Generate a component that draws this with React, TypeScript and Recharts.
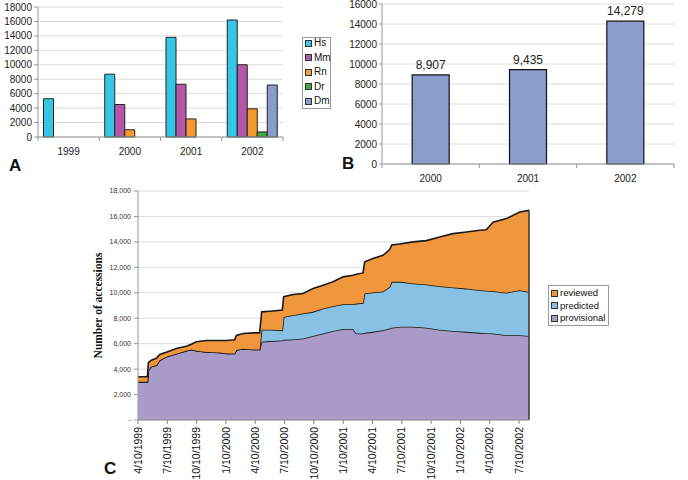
import React from "react";
import {
  BarChart, Bar, XAxis, YAxis, CartesianGrid, LabelList,
  AreaChart, Area, ReferenceLine,
} from "recharts";

// ---------- Panel A ----------
const yearsA = ["1999", "2000", "2001", "2002"];
const hs = [5300, 8700, 13800, 16200];
const mm = [null, 4500, 7300, 10000];
const rn = [null, 1000, 2500, 3900];
const dr = [null, null, null, 700];
const dm = [null, null, null, 7200];
const ticksA = [0, 2000, 4000, 6000, 8000, 10000, 12000, 14000, 16000, 18000];

// ---------- Panel B ----------
const yearsB = ["2000", "2001", "2002"];
const totalsB = [8907, 9435, 14279];
const ticksB = [0, 2000, 4000, 6000, 8000, 10000, 12000, 14000, 16000];

// ---------- Panel C ----------
// months since 4/10/1999
const months = [0, 0.96, 1.06, 1.36, 1.88, 2.22, 2.97, 3.92, 4.95, 5.46, 5.97, 6.99, 8.36, 9.04, 9.89, 10.07, 10.75, 11.77, 12.45, 12.66, 13.48, 14.77, 14.91, 15.87, 16.89, 17.91, 18.94, 19.96, 20.98, 22.01, 22.35, 23.03, 23.2, 24.05, 25.08, 25.76, 25.97, 26.95, 28.15, 29.51, 30.88, 32.24, 33.61, 34.97, 35.65, 36.34, 37.7, 39.07, 40.02];
const provisional = [3000, 3000, 3900, 4200, 4300, 4700, 5000, 5200, 5450, 5550, 5450, 5350, 5300, 5230, 5230, 5500, 5600, 5550, 5550, 6150, 6200, 6250, 6300, 6330, 6400, 6600, 6800, 7000, 7150, 7150, 6800, 6800, 6850, 6930, 7050, 7200, 7250, 7330, 7330, 7250, 7100, 7000, 6930, 6850, 6820, 6800, 6670, 6670, 6600];
const predicted = [0, 0, 0, 0, 0, 0, 0, 0, 0, 0, 0, 0, 0, 0, 0, 0, 0, 0, 0, 950, 900, 800, 1800, 1910, 1970, 1900, 1960, 1950, 1950, 1950, 2350, 2400, 3090, 3090, 3050, 3260, 3610, 3530, 3400, 3400, 3420, 3410, 3400, 3350, 3340, 3320, 3330, 3530, 3470];
const reviewed = [400, 400, 600, 500, 550, 450, 350, 420, 350, 400, 700, 900, 950, 1020, 1070, 1150, 1200, 1300, 1300, 1400, 1450, 1600, 1600, 1620, 1570, 1830, 1840, 1910, 2150, 2280, 2300, 2360, 2490, 2670, 2850, 2940, 2890, 3000, 3270, 3450, 3870, 4240, 4450, 4710, 4790, 5430, 5830, 6150, 6410];
const tickMonthsC = [0, 3, 6, 9, 12, 15, 18, 21, 24, 27, 30, 33, 36, 39];
const tickLabelsC = ["4/10/1999", "7/10/1999", "10/10/1999", "1/10/2000", "4/10/2000", "7/10/2000", "10/10/2000", "1/10/2001", "4/10/2001", "7/10/2001", "10/10/2001", "1/10/2002", "4/10/2002", "7/10/2002"];
const ticksC = [0, 2000, 4000, 6000, 8000, 10000, 12000, 14000, 16000, 18000];

const FONT = "'Liberation Sans', Arial, Helvetica, sans-serif";
const colors = {
  hs: "#35C6E6", mm: "#B457A9", rn: "#F39B31", dr: "#3DAA3D", dm: "#8A9CCC",
  b: "#8A9DCB",
  provisional: "#A99ACA", predicted: "#87C2E4", reviewed: "#F0963D",
};

const dataA = yearsA.map((y, i) => ({ year: y, Hs: hs[i], Mm: mm[i], Rn: rn[i], Dr: dr[i], Dm: dm[i] }));
const dataB = yearsB.map((y, i) => ({ year: y, total: totalsB[i] }));
const dataC = months.map((m, i) => ({ m, provisional: provisional[i], predicted: predicted[i], reviewed: reviewed[i] }));
const lastIdx = months.length - 1;
const lastTotal = provisional[lastIdx] + predicted[lastIdx] + reviewed[lastIdx];

const CatTick = (props: any) => {
  const { x, y, payload, index, visibleTicksCount, width, fs, gap } = props;
  const half = payload && typeof payload.offset === "number" && payload.offset > 0
    ? payload.offset
    : (width && visibleTicksCount ? width / visibleTicksCount / 2 : 0);
  const isLast = index === visibleTicksCount - 1;
  return (
    <g>
      <line x1={x - half} x2={x - half} y1={y} y2={y + 4} stroke="#999" />
      {isLast && <line x1={x + half} x2={x + half} y1={y} y2={y + 4} stroke="#999" />}
      <text x={x} y={y + gap} dy="0.71em" textAnchor="middle" fontSize={fs} fontFamily={FONT} fill="#222">
        {payload.value}
      </text>
    </g>
  );
};

const DateTick = (props: any) => {
  const { x, y, payload } = props;
  const idx = tickMonthsC.indexOf(payload.value);
  const label = idx >= 0 ? tickLabelsC[idx] : "";
  return (
    <text x={x} y={y} dy="0.35em" textAnchor="end" transform={`rotate(-90, ${x}, ${y})`}
      fontSize={10.5} fontFamily={FONT} fill="#111">
      {label}
    </text>
  );
};

const YLabelC = (props: any) => {
  const vb = props.viewBox || { x: 0, y: 0, width: 0, height: 0 };
  const cx = vb.x + 98;
  const cy = vb.y + vb.height / 2;
  return (
    <text x={cx} y={cy} transform={`rotate(-90, ${cx}, ${cy})`} textAnchor="middle" dy="0.35em"
      fontSize={11.5} fontWeight="bold" fontFamily="'Liberation Serif', 'Times New Roman', serif" fill="#111">
      Number of accessions
    </text>
  );
};

const LegendItem = ({ color, label, top, left, fs }: any) => (
  <div style={{ position: "absolute", top, left, height: 12, display: "flex", alignItems: "center", whiteSpace: "nowrap" }}>
    <span style={{ width: 5, height: 5, background: color, border: "1px solid #333", display: "inline-block", marginRight: 2 }} />
    <span style={{ fontSize: fs, fontFamily: FONT, color: "#111", lineHeight: "12px" }}>{label}</span>
  </div>
);

const PanelLabel = ({ text, left, top }: any) => (
  <div style={{ position: "absolute", left, top, fontFamily: FONT, fontWeight: "bold", fontSize: 17, lineHeight: "17px", color: "#111" }}>{text}</div>
);

export default function App() {
  const legendA = [
    { k: "Hs", c: colors.hs }, { k: "Mm", c: colors.mm }, { k: "Rn", c: colors.rn },
    { k: "Dr", c: colors.dr }, { k: "Dm", c: colors.dm },
  ];
  const legendC = [
    { k: "reviewed", c: colors.reviewed }, { k: "predicted", c: colors.predicted }, { k: "provisional", c: colors.provisional },
  ];
  return (
    <div style={{ position: "absolute", left: 0, top: 0, width: 688, height: 480, background: "#fff", overflow: "hidden" }}>
      {/* Panel A */}
      <div style={{ position: "absolute", left: 0, top: 0 }}>
        <BarChart width={340} height={180} data={dataA} margin={{ top: 7, right: 57, bottom: 13, left: 0 }}
          barCategoryGap="9%" barGap={0}>
          <CartesianGrid vertical={false} stroke="#dcdcdc" />
          <XAxis dataKey="year" height={30} stroke="#999" tickLine={false} tickSize={0} tickMargin={0}
            tick={<CatTick fs={10} gap={11} />} interval={0} />
          <YAxis width={38} domain={[0, 18000]} ticks={ticksA} stroke="#999" tickSize={4} tickMargin={2}
            tick={{ fontSize: 10, fontFamily: FONT, fill: "#222" }} interval={0} />
          <Bar dataKey="Hs" fill={colors.hs} stroke="#222" strokeWidth={1} isAnimationActive={false} />
          <Bar dataKey="Mm" fill={colors.mm} stroke="#222" strokeWidth={1} isAnimationActive={false} />
          <Bar dataKey="Rn" fill={colors.rn} stroke="#222" strokeWidth={1} isAnimationActive={false} />
          <Bar dataKey="Dr" fill={colors.dr} stroke="#222" strokeWidth={1} isAnimationActive={false} />
          <Bar dataKey="Dm" fill={colors.dm} stroke="#222" strokeWidth={1} isAnimationActive={false} />
        </BarChart>
      </div>
      <div style={{ position: "absolute", left: 302, top: 37, width: 27, height: 70, border: "1px solid #999" }} />
      {legendA.map((d, i) => (
        <LegendItem key={d.k} color={d.c} label={d.k} top={37 + i * 14.6} left={305} fs={10} />
      ))}
      <PanelLabel text="A" left={9} top={157} />

      {/* Panel B */}
      <div style={{ position: "absolute", left: 340, top: 0 }}>
        <BarChart width={348} height={200} data={dataB} margin={{ top: 4, right: 14, bottom: 6, left: 0 }}
          barCategoryGap="31%">
          <CartesianGrid vertical={false} stroke="#dcdcdc" />
          <XAxis dataKey="year" height={30} stroke="#999" tickLine={false} tickSize={0} tickMargin={0}
            tick={<CatTick fs={10} gap={11} />} interval={0} />
          <YAxis width={42} domain={[0, 16000]} ticks={ticksB} stroke="#999" tickSize={3} tickMargin={2}
            tick={{ fontSize: 10, fontFamily: FONT, fill: "#222" }} interval={0} />
          <Bar dataKey="total" fill={colors.b} stroke="#111" strokeWidth={1.2} isAnimationActive={false}>
            <LabelList dataKey="total" position="top" offset={6}
              formatter={(v: any) => Number(v).toLocaleString("en-US")}
              style={{ fontSize: 12, fontFamily: FONT, fill: "#222" }} />
          </Bar>
        </BarChart>
      </div>
      <PanelLabel text="B" left={342} top={155} />

      {/* Panel C */}
      <div style={{ position: "absolute", left: 0, top: 180 }}>
        <AreaChart width={540} height={300} data={dataC} margin={{ top: 11, right: 11, bottom: 0, left: 0 }}>
          <CartesianGrid vertical={false} stroke="#dcdcdc" />
          <XAxis dataKey="m" type="number" domain={[0, months[lastIdx]]} ticks={tickMonthsC} interval={0}
            height={60} stroke="#888" tickSize={4} tickMargin={3} tick={<DateTick />} allowDataOverflow />
          <YAxis width={138} domain={[0, 18000]} ticks={ticksC} interval={0} stroke="#999" tickSize={4} tickMargin={3}
            tickFormatter={(v: number) => (v === 0 ? "-" : v.toLocaleString("en-US"))}
            tick={{ fontSize: 7, fontFamily: FONT, fill: "#333" }}
            label={<YLabelC />} />
          <Area type="linear" dataKey="provisional" stackId="s" fill={colors.provisional} fillOpacity={1}
            stroke="#1a1a1a" strokeWidth={1.6} dot={false} activeDot={false} isAnimationActive={false} />
          <Area type="linear" dataKey="predicted" stackId="s" fill={colors.predicted} fillOpacity={1}
            stroke="#1a1a1a" strokeWidth={1.6} dot={false} activeDot={false} isAnimationActive={false} />
          <Area type="linear" dataKey="reviewed" stackId="s" fill={colors.reviewed} fillOpacity={1}
            stroke="#1a1a1a" strokeWidth={1.6} dot={false} activeDot={false} isAnimationActive={false} />
          <ReferenceLine segment={[{ x: months[lastIdx], y: 0 }, { x: months[lastIdx], y: lastTotal }]}
            stroke="#333" strokeWidth={1.5} />
        </AreaChart>
      </div>
      <div style={{ position: "absolute", left: 548, top: 285, width: 59, height: 39, border: "1px solid #999" }} />
      {legendC.map((d, i) => (
        <LegendItem key={d.k} color={d.c} label={d.k} top={287 + i * 12.5} left={551} fs={9.5} />
      ))}
      <PanelLabel text="C" left={104} top={460} />
    </div>
  );
}
